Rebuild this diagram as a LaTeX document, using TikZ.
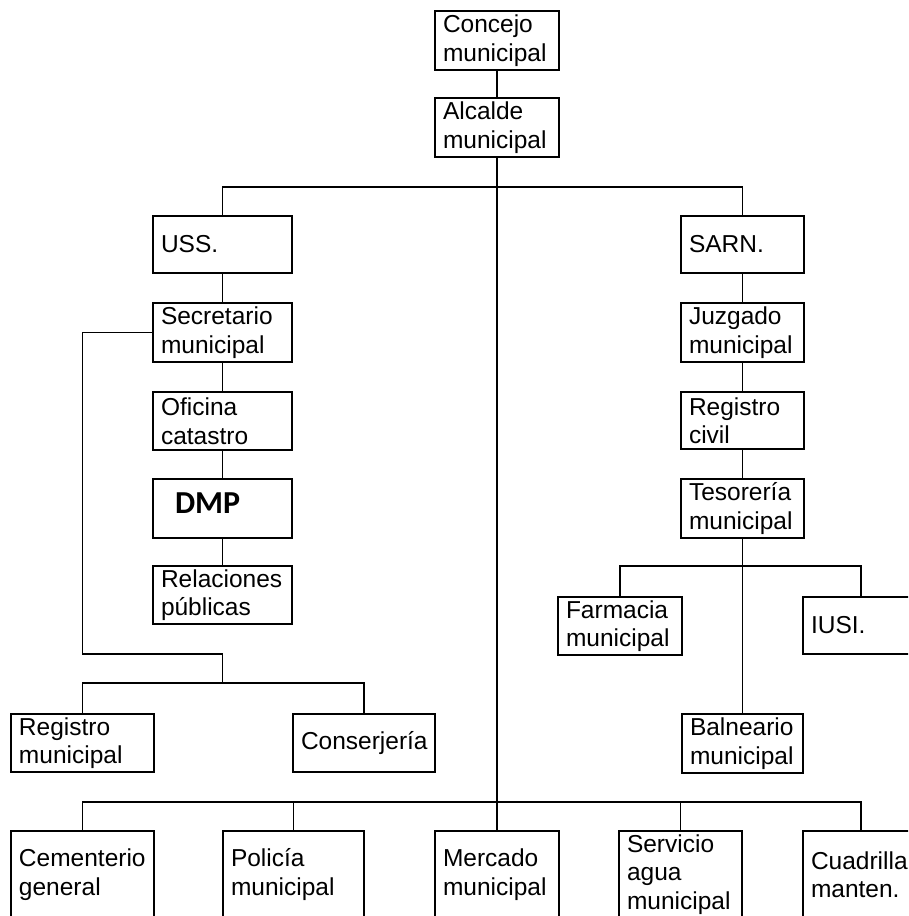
\documentclass[tikz,border=0pt]{standalone}
\usepackage{fontspec}
\setmainfont{Liberation Sans}
\newfontfamily\dmpfont{Carlito}
\hyphenpenalty=10000
\exhyphenpenalty=10000
\begin{document}
\begin{tikzpicture}[x=1pt,y=1pt,
  box/.style={draw, line width=1.8pt, inner xsep=8pt, inner ysep=0pt, align=left,
              font=\fontsize{24.5}{28.5}\selectfont},
  conn/.style={line width=1.8pt}]
\useasboundingbox (0,0) rectangle (908,-916);
\clip (0,0) rectangle (908,-916);
\fill[white] (0,0) rectangle (908,-916);

% top
\node[box, text width=108pt, minimum height=59pt] (concejo) at (497,-40.5) {Concejo\\municipal};
\node[box, text width=108pt, minimum height=59pt] (alcalde) at (497,-127.5) {Alcalde\\municipal};

% left column
\node[box, text width=123pt, minimum height=57pt] (uss) at (222.5,-244.5) {USS.};
\node[box, text width=123pt, minimum height=59pt] (secr) at (222.5,-332.5) {Secretario\\municipal};
\node[box, text width=123pt, minimum height=58pt] (ofic) at (222.5,-421) {Oficina\\catastro};
\node[box, text width=95pt, inner xsep=22pt, minimum height=59pt, text depth=11.6pt,
      font=\dmpfont\bfseries\fontsize{32}{36}\selectfont] (dmp) at (222.5,-508.5) {DMP};
\node[box, text width=123pt, minimum height=58pt] (rel) at (222.5,-595) {Relaciones\\públicas};

% right column
\node[box, text width=107pt, minimum height=57pt] (sarn) at (742.5,-244.5) {SARN.};
\node[box, text width=107pt, minimum height=59pt] (juz) at (742.5,-332.5) {Juzgado\\municipal};
\node[box, text width=107pt, minimum height=57pt] (regc) at (742.5,-420.5) {Registro\\civil};
\node[box, text width=107pt, minimum height=59pt] (tes) at (742.5,-508.5) {Tesorería\\municipal};
\node[box, text width=108pt, minimum height=58pt] (farm) at (620,-626) {Farmacia\\municipal};
\node[box, text width=100pt, minimum height=57pt] (iusi) at (861,-625.5) {IUSI.};
\node[box, text width=105pt, minimum height=59pt] (baln) at (742.5,-743.5) {Balneario\\municipal};

% lower left
\node[box, text width=127pt, minimum height=58pt] (regm) at (82.5,-743) {Registro\\municipal};
\node[box, text width=126pt, minimum height=58pt] (consj) at (364,-743) {Conserjería};

% bottom row
\node[box, text width=127pt, minimum height=87pt] (cem) at (82.5,-874.5) {Cementerio\\general};
\node[box, text width=125pt, minimum height=87pt] (pol) at (293.5,-874.5) {Policía\\municipal};
\node[box, text width=108pt, minimum height=87pt] (merc) at (497,-874.5) {Mercado\\municipal};
\node[box, text width=107pt, minimum height=87pt] (serv) at (680.5,-874.5) {Servicio\\agua\\municipal};
\node[box, text width=100pt, minimum height=87pt] (cuad) at (861,-874.5) {Cuadrilla\\manten.};

% junction points
\coordinate (t1) at (497,-187);
\coordinate (r1) at (742.5,-566);
\coordinate (k1) at (82.5,-654);
\coordinate (k2) at (222.5,-654);
\coordinate (k3) at (222.5,-683);
\coordinate (b1) at (497,-802);

% connectors
\draw[conn] (concejo.south) -- (alcalde.north);
\draw[conn] (alcalde.south) -- (merc.north);
\draw[conn] (uss.north) |- (t1) -| (sarn.north);
\draw[conn] (uss.south) -- (secr.north);
\draw[conn] (secr.south) -- (ofic.north);
\draw[conn] (ofic.south) -- (dmp.north);
\draw[conn] (dmp.south) -- (rel.north);
\draw[conn] (sarn.south) -- (juz.north);
\draw[conn] (juz.south) -- (regc.north);
\draw[conn] (regc.south) -- (tes.north);
\draw[conn] (tes.south) -- (baln.north);
\draw[conn] (farm.north) |- (r1) -| (iusi.north);
\draw[conn] (secr.west) -| (k1) -- (k2) -- (k3);
\draw[conn] (regm.north) |- (k3) -| (consj.north);
\draw[conn] (cem.north) |- (b1) -| (cuad.north);
\draw[conn] (pol.north) -- (pol.north |- b1);
\draw[conn] (serv.north) -- (serv.north |- b1);
\end{tikzpicture}
\end{document}
